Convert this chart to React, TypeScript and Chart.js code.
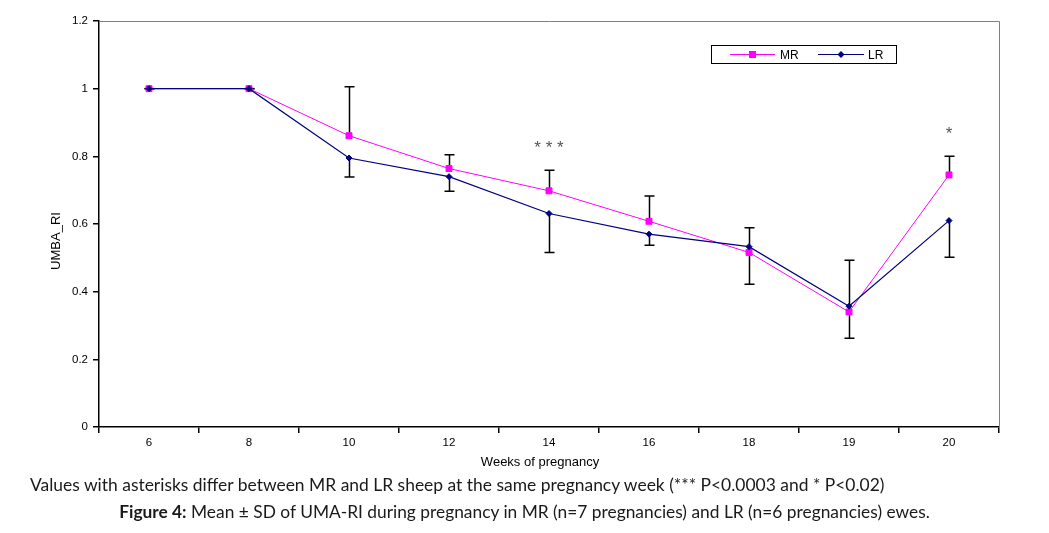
import React, { useEffect, useRef } from 'react';
import { Chart, registerables } from 'chart.js';

Chart.register(...registerables);

const weeks = ['6', '8', '10', '12', '14', '16', '18', '19', '20'];
const mrMean = [1, 1, 0.861, 0.764, 0.698, 0.608, 0.516, 0.34, 0.745];
const lrMean = [1, 1, 0.795, 0.74, 0.631, 0.57, 0.533, 0.357, 0.61];
const mrSdUp = [0, 0, 0.145, 0.041, 0.061, 0.075, 0.073, 0.153, 0.055];
const lrSdDown = [0, 0, 0.056, 0.043, 0.115, 0.033, 0.111, 0.095, 0.108];
const significance = ['', '', '', '', '* * *', '', '', '', '*'];
const seriesNames = ['MR', 'LR'];
const seriesColors = ['#FF00FF', '#000080'];
const yAxisTitle = 'UMBA_RI';
const xAxisTitle = 'Weeks of pregnancy';
const noteText = 'Values with asterisks differ between MR and LR sheep at the same pregnancy week (*** P<0.0003 and * P<0.02)';
const figLabel = 'Figure 4:';
const figText = ' Mean ± SD of UMA-RI during pregnancy in MR (n=7 pregnancies) and LR (n=6 pregnancies) ewes.';

const FONT = '"Liberation Sans", Arial, sans-serif';

const overlayPlugin = {
  id: 'overlay',
  beforeDatasetsDraw(chart: any) {
    const { ctx, chartArea, scales } = chart;
    const x = scales.x;
    const y = scales.y;
    ctx.save();
    // gray frame (top & right)
    ctx.strokeStyle = '#808080';
    ctx.lineWidth = 1;
    ctx.beginPath();
    ctx.moveTo(chartArea.left, Math.round(chartArea.top) + 0.5);
    ctx.lineTo(Math.round(chartArea.right) + 0.5, Math.round(chartArea.top) + 0.5);
    ctx.lineTo(Math.round(chartArea.right) + 0.5, chartArea.bottom);
    ctx.stroke();

    // error bars
    ctx.strokeStyle = '#000';
    ctx.lineWidth = 1.5;
    const cap = 5;
    weeks.forEach((_, i) => {
      const px = Math.round(x.getPixelForValue(i)) + 0.5;
      const segs: [number, number][] = [
        [mrMean[i], mrMean[i] + mrSdUp[i]],
        [lrMean[i], lrMean[i] - lrSdDown[i]],
      ];
      segs.forEach(([from, to]) => {
        const y0 = y.getPixelForValue(from);
        const y1 = y.getPixelForValue(to);
        ctx.beginPath();
        ctx.moveTo(px, y0);
        ctx.lineTo(px, y1);
        ctx.moveTo(px - cap, y1);
        ctx.lineTo(px + cap, y1);
        ctx.stroke();
      });
    });
    ctx.restore();
  },
  afterDraw(chart: any) {
    const { ctx, chartArea, scales } = chart;
    const x = scales.x;
    const y = scales.y;
    ctx.save();
    // significance marks
    ctx.fillStyle = '#555';
    ctx.font = `17px ${FONT}`;
    ctx.textAlign = 'center';
    ctx.textBaseline = 'alphabetic';
    significance.forEach((s, i) => {
      if (!s) return;
      const px = x.getPixelForValue(i);
      const top = y.getPixelForValue(mrMean[i] + mrSdUp[i]);
      ctx.fillText(s, px, top - 17);
    });

    // axis titles
    ctx.fillStyle = '#000';
    ctx.font = `13px ${FONT}`;
    ctx.textAlign = 'center';
    ctx.textBaseline = 'middle';
    ctx.fillText(xAxisTitle, (chartArea.left + chartArea.right) / 2 - 9, chartArea.bottom + 35);
    ctx.save();
    ctx.translate(chartArea.left - 43, (chartArea.top + chartArea.bottom) / 2 + 17);
    ctx.rotate(-Math.PI / 2);
    ctx.fillText(yAxisTitle, 0, 0);
    ctx.restore();

    // legend box
    const lx = 711.5, ly = 45.5, lw = 185, lh = 18;
    ctx.strokeStyle = '#000';
    ctx.lineWidth = 1;
    ctx.fillStyle = '#fff';
    ctx.fillRect(lx, ly, lw, lh);
    ctx.strokeRect(lx, ly, lw, lh);
    const cy = ly + lh / 2;
    const items = [
      { x0: 730, x1: 775, tx: 780 },
      { x0: 818, x1: 864, tx: 868 },
    ];
    items.forEach((it, k) => {
      ctx.strokeStyle = seriesColors[k];
      ctx.lineWidth = 1.2;
      ctx.beginPath();
      ctx.moveTo(it.x0, cy);
      ctx.lineTo(it.x1, cy);
      ctx.stroke();
      const mx = (it.x0 + it.x1) / 2;
      ctx.fillStyle = seriesColors[k];
      ctx.beginPath();
      if (k === 0) {
        ctx.rect(mx - 3.5, cy - 3.5, 7, 7);
      } else {
        ctx.moveTo(mx - 3.5, cy);
        ctx.lineTo(mx, cy - 3.5);
        ctx.lineTo(mx + 3.5, cy);
        ctx.lineTo(mx, cy + 3.5);
        ctx.closePath();
      }
      ctx.fill();
      ctx.fillStyle = '#000';
      ctx.font = `12px ${FONT}`;
      ctx.textAlign = 'left';
      ctx.textBaseline = 'middle';
      ctx.fillText(seriesNames[k], it.tx, cy + 1);
    });
    ctx.restore();
  },
};

export default function App() {
  const canvasRef = useRef<HTMLCanvasElement | null>(null);

  useEffect(() => {
    if (!canvasRef.current) return;
    const chart = new Chart(canvasRef.current, {
      type: 'line',
      data: {
        labels: weeks,
        datasets: [
          {
            label: seriesNames[0],
            data: mrMean,
            borderColor: seriesColors[0],
            backgroundColor: seriesColors[0],
            borderWidth: 1,
            pointStyle: 'rect',
            pointRadius: 4.2,
            pointBorderWidth: 1,
            pointBorderColor: seriesColors[0],
            pointBackgroundColor: seriesColors[0],
            order: 1,
          },
          {
            label: seriesNames[1],
            data: lrMean,
            borderColor: seriesColors[1],
            backgroundColor: seriesColors[1],
            borderWidth: 1.2,
            pointStyle: 'rectRot',
            pointRadius: 3,
            pointBorderWidth: 1,
            pointBorderColor: seriesColors[1],
            pointBackgroundColor: seriesColors[1],
            order: 0,
          },
        ],
      },
      options: {
        animation: false,
        responsive: true,
        maintainAspectRatio: false,
        layout: { padding: { left: 0, top: 21, right: 50, bottom: 66 } },
        plugins: {
          legend: { display: false },
          tooltip: { enabled: false },
          title: { display: false },
        },
        scales: {
          x: {
            type: 'category',
            offset: true,
            grid: {
              offset: true,
              drawOnChartArea: false,
              drawTicks: true,
              tickLength: 6,
              color: '#000',
              lineWidth: 1.5,
            },
            border: { display: true, color: '#000', width: 1.5 },
            ticks: {
              color: '#000',
              font: { family: FONT, size: 11.5 },
              padding: 3,
              maxRotation: 0,
              autoSkip: false,
            },
            afterFit(scale: any) {
              scale.height = 40;
            },
          },
          y: {
            min: 0,
            max: 1.2,
            grid: {
              drawOnChartArea: false,
              drawTicks: true,
              tickLength: 6,
              color: '#000',
              lineWidth: 1.5,
            },
            border: { display: true, color: '#000', width: 1.5 },
            ticks: {
              stepSize: 0.2,
              color: '#000',
              font: { family: FONT, size: 11.5 },
              padding: 5,
              callback: (v: any) => String(Number(Number(v).toFixed(1))),
            },
            afterFit(scale: any) {
              scale.width = 99;
            },
          },
        },
      },
      plugins: [overlayPlugin],
    });
    return () => chart.destroy();
  }, []);

  return (
    <div style={{ position: 'absolute', left: 0, top: 0, width: 1049, height: 533, background: '#fff', overflow: 'hidden' }}>
      <div style={{ position: 'absolute', left: 0, top: 0, width: 1049, height: 533 }}>
        <canvas ref={canvasRef} />
      </div>
      <div
        style={{
          position: 'absolute',
          left: 30,
          top: 475,
          whiteSpace: 'nowrap',
          fontFamily: 'Lato, sans-serif',
          fontSize: 17.45,
          lineHeight: '20px',
          color: '#1a1a1a',
        }}
      >
        {noteText}
      </div>
      <div
        style={{
          position: 'absolute',
          left: 0,
          width: 1049,
          top: 502,
          textAlign: 'center',
          whiteSpace: 'nowrap',
          fontFamily: 'Lato, sans-serif',
          fontSize: 17.35,
          lineHeight: '20px',
          color: '#1a1a1a',
        }}
      >
        <b>{figLabel}</b>
        {figText}
      </div>
    </div>
  );
}
